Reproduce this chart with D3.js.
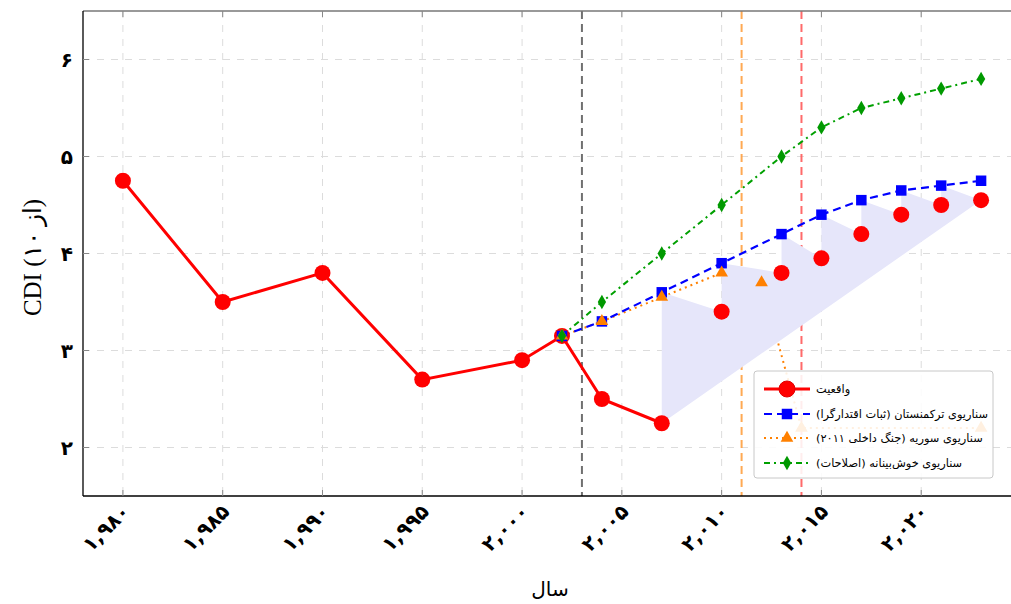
<!DOCTYPE html>
<html>
<head>
<meta charset="utf-8">
<script src="https://cdn.jsdelivr.net/npm/d3@7"></script>
<style>
  html, body { margin: 0; padding: 0; background: #fff; }
  svg { display: block; }
</style>
</head>
<body>
<svg id="chart" width="1011" height="604"></svg>
<script>
// ---------------- DATA ----------------
const xTicks = [1980, 1985, 1990, 1995, 2000, 2005, 2010, 2015, 2020];
const xTickLabels = ["۱,۹۸۰", "۱,۹۸۵", "۱,۹۹۰", "۱,۹۹۵", "۲,۰۰۰", "۲,۰۰۵", "۲,۰۱۰", "۲,۰۱۵", "۲,۰۲۰"];
const yTicks = [2, 3, 4, 5, 6];
const yTickLabels = ["۲", "۳", "۴", "۵", "۶"];

// Actual (واقعیت)
const actualYears  = [1980, 1985, 1990, 1995, 2000, 2002, 2004, 2007, 2010, 2013, 2015, 2017, 2019, 2021, 2023];
const actualValues = [4.75, 3.5, 3.8, 2.7, 2.9, 3.15, 2.5, 2.25, 3.4, 3.8, 3.95, 4.2, 4.4, 4.5, 4.55];
const actualLineCount = 8; // line drawn through 1980–2007 only

// Turkmenistan scenario
const turkYears  = [2002, 2004, 2007, 2010, 2013, 2015, 2017, 2019, 2021, 2023];
const turkValues = [3.15, 3.3, 3.6, 3.9, 4.2, 4.4, 4.55, 4.65, 4.7, 4.75];

// Syria scenario
const syriaYears  = [2002, 2004, 2007, 2010, 2012, 2014, 2023];
const syriaValues = [3.15, 3.3, 3.55, 3.8, 3.7, 2.2, 2.2];

// Optimistic scenario
const optYears  = [2002, 2004, 2007, 2010, 2013, 2015, 2017, 2019, 2021, 2023];
const optValues = [3.15, 3.5, 4.0, 4.5, 5.0, 5.3, 5.5, 5.6, 5.7, 5.8];

// Gap area years (between actual and Turkmenistan scenario)
const gapYears = [2007, 2010, 2013, 2015, 2017, 2019, 2021, 2023];

// Event lines
const eventYears  = [2003, 2011, 2014];
const eventColors = ["#606060", "#ffa040", "#ff5a5a"];

const legendLabels = [
  "واقعیت",
  "سناریوی ترکمنستان (ثبات اقتدارگرا)",
  "سناریوی سوریه (جنگ داخلی ۲۰۱۱)",
  "سناریوی خوش‌بینانه (اصلاحات)"
];
const xLabel = "سال";
const yLabel = "CDI (از ۱۰)";

// ---------------- LAYOUT ----------------
(function () {
const svg = d3.select("#chart");
const pL = 83, pT = 11, pB = 496, pR = 1021;
const x = d3.scaleLinear().domain([1978, 2025]).range([pL, pR]);
const y = d3.scaleLinear().domain([1.5, 6.5]).range([pB, pT]);

const pts = (xs, vs) => xs.map((d, i) => [x(d), y(vs[i])]);
const line = d3.line();

// grid
const grid = svg.append("g");
grid.selectAll("line.gx").data(xTicks).join("line")
  .attr("x1", d => x(d)).attr("x2", d => x(d)).attr("y1", pT).attr("y2", pB)
  .attr("stroke", "#dcdcdc").attr("stroke-width", 1).attr("stroke-dasharray", "7,7");
grid.selectAll("line.gy").data(yTicks).join("line")
  .attr("y1", d => y(d)).attr("y2", d => y(d)).attr("x1", pL).attr("x2", pR)
  .attr("stroke", "#dcdcdc").attr("stroke-width", 1).attr("stroke-dasharray", "7,7");

// event lines
svg.append("g").selectAll("line").data(eventYears).join("line")
  .attr("x1", d => x(d)).attr("x2", d => x(d)).attr("y1", pT).attr("y2", pB)
  .attr("stroke", (d, i) => eventColors[i]).attr("stroke-width", 2)
  .attr("stroke-dasharray", "8,5").attr("stroke-opacity", 0.9);

// Syria line (under the area)
svg.append("path").attr("d", line(pts(syriaYears, syriaValues)))
  .attr("fill", "none").attr("stroke", "#ff8000").attr("stroke-width", 2)
  .attr("stroke-dasharray", "2,4");

// gap area
const polyPts = [];
gapYears.forEach(yr => {
  const ai = actualYears.indexOf(yr), ti = turkYears.indexOf(yr);
  polyPts.push([x(yr), y(actualValues[ai])]);
  polyPts.push([x(yr), y(turkValues[ti])]);
});
{
  const yr = gapYears[gapYears.length - 1];
  polyPts.push([x(yr), y(actualValues[actualYears.indexOf(yr)])]);
}
svg.append("path").attr("d", line(polyPts) + "Z").attr("fill", "#e6e6fa").attr("stroke", "none");

// lines
svg.append("path").attr("d", line(pts(actualYears.slice(0, actualLineCount), actualValues.slice(0, actualLineCount))))
  .attr("fill", "none").attr("stroke", "#ff0000").attr("stroke-width", 3);
svg.append("path").attr("d", line(pts(turkYears, turkValues)))
  .attr("fill", "none").attr("stroke", "#0000ff").attr("stroke-width", 2.2).attr("stroke-dasharray", "8,5");
svg.append("path").attr("d", line(pts(optYears, optValues)))
  .attr("fill", "none").attr("stroke", "#00a000").attr("stroke-width", 2).attr("stroke-dasharray", "6,4,2,4");

// markers
const symSquare = d3.symbol().type(d3.symbolSquare).size(110);
const symTri = d3.symbol().type(d3.symbolTriangle).size(70);
const symDia = d3.symbol().type(d3.symbolDiamond).size(60);

svg.append("g").selectAll("circle").data(pts(actualYears, actualValues)).join("circle")
  .attr("cx", d => d[0]).attr("cy", d => d[1]).attr("r", 8).attr("fill", "#ff0000");
svg.append("g").selectAll("path").data(pts(turkYears, turkValues)).join("path")
  .attr("transform", d => `translate(${d[0]},${d[1]})`).attr("d", symSquare()).attr("fill", "#0000ff");
svg.append("g").selectAll("path").data(pts(syriaYears, syriaValues)).join("path")
  .attr("transform", d => `translate(${d[0]},${d[1]})`).attr("d", symTri()).attr("fill", "#ff8000");
svg.append("g").selectAll("path").data(pts(optYears, optValues)).join("path")
  .attr("transform", d => `translate(${d[0]},${d[1]})`).attr("d", symDia()).attr("fill", "#009900");

// frame and ticks
svg.append("line").attr("x1", pL).attr("x2", pR).attr("y1", pT).attr("y2", pT)
  .attr("stroke", "#777").attr("stroke-width", 1.5);
svg.append("line").attr("x1", pL).attr("x2", pL).attr("y1", pT).attr("y2", pB)
  .attr("stroke", "#000").attr("stroke-width", 1.3);
svg.append("line").attr("x1", pL).attr("x2", pR).attr("y1", pB).attr("y2", pB)
  .attr("stroke", "#000").attr("stroke-width", 1.3);
const ticks = svg.append("g").attr("stroke", "#888").attr("stroke-width", 1);
xTicks.forEach(t => {
  ticks.append("line").attr("x1", x(t)).attr("x2", x(t)).attr("y1", pB).attr("y2", pB - 6);
  ticks.append("line").attr("x1", x(t)).attr("x2", x(t)).attr("y1", pT).attr("y2", pT + 6);
});
yTicks.forEach(t => {
  ticks.append("line").attr("x1", pL).attr("x2", pL + 6).attr("y1", y(t)).attr("y2", y(t));
});

// tick labels
svg.append("g").selectAll("text").data(xTicks).join("text")
  .attr("transform", d => `translate(${x(d) + 3},${pB + 12}) rotate(-45)`)
  .attr("text-anchor", "end").attr("dy", "0.35em")
  .attr("font-family", "DejaVu Sans, sans-serif").attr("font-weight", "bold").attr("font-size", 20)
  .attr("fill", "#000")
  .text((d, i) => xTickLabels[i]);
svg.append("g").selectAll("text").data(yTicks).join("text")
  .attr("x", 73).attr("y", d => y(d)).attr("dy", "0.35em").attr("text-anchor", "end")
  .attr("font-family", "DejaVu Sans, sans-serif").attr("font-weight", "bold").attr("font-size", 20)
  .attr("fill", "#000")
  .text((d, i) => yTickLabels[i]);

// axis titles
svg.append("text").attr("x", 550).attr("y", 596).attr("text-anchor", "middle")
  .attr("font-family", "DejaVu Sans, sans-serif").attr("font-size", 20).attr("fill", "#000")
  .text(xLabel);
svg.append("text").attr("transform", `translate(32,${(pT + pB) / 2 + 4}) rotate(-90)`)
  .attr("text-anchor", "middle").attr("dy", "0.35em")
  .attr("font-family", "Liberation Serif, serif").attr("font-size", 25).attr("fill", "#000")
  .text(yLabel);

// legend
const lg = svg.append("g");
lg.append("rect").attr("x", 754).attr("y", 371).attr("width", 239).attr("height", 107).attr("rx", 3)
  .attr("fill", "#fff").attr("fill-opacity", 0.88).attr("stroke", "#c8c8c8").attr("stroke-width", 1);
const rowsY = [389, 414, 438, 463];
const styles = [
  {c: "#ff0000", w: 3, dash: null},
  {c: "#0000ff", w: 2.2, dash: "8,5"},
  {c: "#ff8000", w: 2, dash: "2,4"},
  {c: "#00a000", w: 2, dash: "6,4,2,4"}
];
styles.forEach((s, i) => {
  const yy = rowsY[i];
  const l = lg.append("line").attr("x1", 764).attr("x2", 810).attr("y1", yy).attr("y2", yy)
    .attr("stroke", s.c).attr("stroke-width", s.w);
  if (s.dash) l.attr("stroke-dasharray", s.dash);
});
lg.append("circle").attr("cx", 787).attr("cy", rowsY[0]).attr("r", 8).attr("fill", "#ff0000").attr("stroke", "#e00000");
lg.append("path").attr("transform", `translate(787,${rowsY[1]})`).attr("d", symSquare()).attr("fill", "#0000ff");
lg.append("path").attr("transform", `translate(787,${rowsY[2]})`).attr("d", symTri()).attr("fill", "#ff8000");
lg.append("path").attr("transform", `translate(787,${rowsY[3]})`).attr("d", symDia()).attr("fill", "#009900");

const texts = lg.selectAll("text").data(legendLabels).join("text")
  .attr("x", 816).attr("y", (d, i) => rowsY[i]).attr("dy", "0.35em")
  .attr("text-anchor", "start")
  .attr("font-family", "DejaVu Sans, sans-serif").attr("font-size", 12).attr("fill", "#000")
  .text(d => "\u200F" + d + "\u200F");
const w = texts.nodes()[1].getComputedTextLength();
if (w > 0) {
  const fs = Math.max(9, Math.min(14, 12 * 172 / w));
  texts.attr("font-size", fs);
}
})();
</script>
</body>
</html>
